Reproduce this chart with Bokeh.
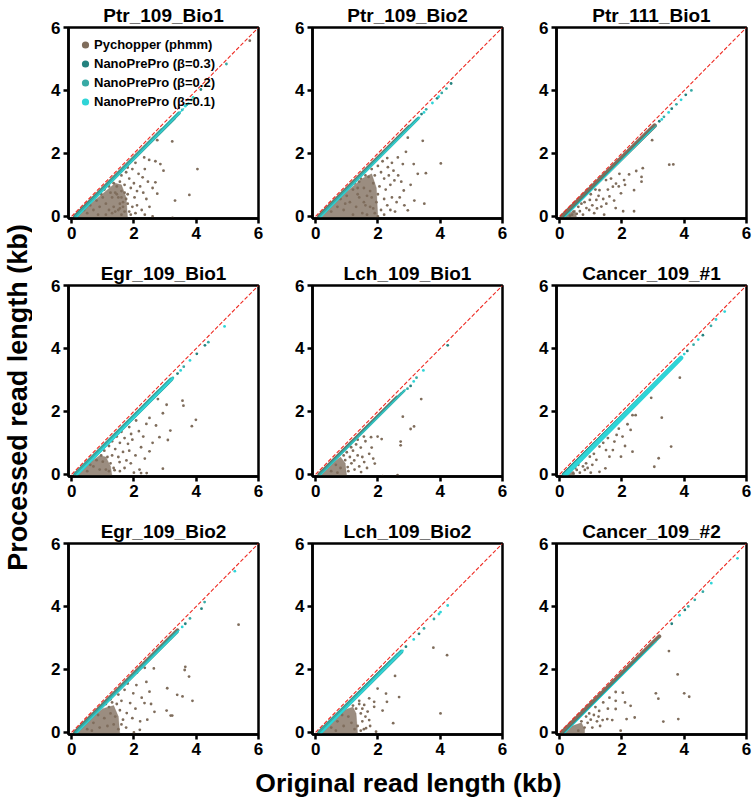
import math
from bokeh.plotting import figure
from bokeh.layouts import gridplot, row, column
from bokeh.models import Range1d, Label, Legend, LegendItem, FixedTicker
from bokeh.embed import file_html
from bokeh.resources import INLINE

# ---------------- data ----------------
panel_titles = ["Ptr_109_Bio1", "Ptr_109_Bio2", "Ptr_111_Bio1",
                "Egr_109_Bio1", "Lch_109_Bio1", "Cancer_109_#1",
                "Egr_109_Bio2", "Lch_109_Bio2", "Cancer_109_#2"]

series_names = ["Pychopper (phmm)", "NanoPrePro (\u03b2=0.3)",
                "NanoPrePro (\u03b2=0.2)", "NanoPrePro (\u03b2=0.1)"]

tick_values = [0, 2, 4, 6]
diag_x = [0, 6]
diag_y = [0, 6]

# Pychopper reads off the main band (original kb, processed kb)
pychopper_pts = [
    [(2.75, 2.42), (3.23, 2.38), (2.49, 1.79), (2.69, 1.75), (2.85, 1.66), (2.95, 1.45), (2.35, 1.50),
     (4.04, 1.50), (2.28, 1.24), (2.69, 1.08), (2.75, 0.72), (3.32, 0.50), (3.78, 0.68), (3.24, -0.05),
     (2.60, 0.00), (2.02, 0.60), (5.72, 5.58), (1.60, 1.30), (1.75, 1.40), (1.55, 1.10), (1.70, 1.00),
     (1.85, 1.20), (1.90, 0.90), (2.00, 1.05), (2.10, 0.80), (2.20, 0.95), (1.80, 0.70), (1.60, 0.80),
     (1.50, 0.60), (1.65, 0.45), (1.80, 0.40), (1.95, 0.30), (2.10, 0.35), (2.25, 0.20), (1.55, 0.25),
     (1.70, 0.15), (1.90, 0.05), (2.05, 0.10), (1.45, 0.95), (1.35, 1.05), (1.20, 0.95), (1.40, 0.75),
     (1.30, 0.60), (1.55, 0.40), (1.35, 0.30), (1.60, 0.05), (2.40, 0.55), (2.30, 0.75), (2.50, 0.30),
     (1.15, 1.00), (1.05, 0.85), (0.95, 0.70), (2.15, 1.35), (1.95, 1.50), (1.80, 1.55), (2.05, 1.70),
     (1.40, 0.15), (2.35, 0.05), (2.60, 0.90), (2.45, 1.10), (2.33, 1.87), (0.50, 0.10), (0.70, 0.20),
     (0.90, 0.30), (1.10, 0.40), (1.20, 0.20), (0.80, 0.50), (1.00, 0.60), (1.25, 0.75), (1.45, 0.70),
     (1.50, 0.20), (0.60, 0.35), (0.40, 0.20), (1.30, 0.10), (1.10, 0.05), (0.85, 0.05), (1.60, 0.60),
     (1.70, 0.75), (1.75, 0.55), (1.65, 0.30), (1.85, 0.15)],
    [(2.96, 2.50), (3.44, 2.40), (2.64, 1.87), (2.80, 1.66), (3.15, 1.66), (3.54, 1.37), (4.02, 1.68),
     (3.28, 1.35), (2.83, 0.82), (3.49, 0.40), (2.96, 0.19), (3.17, 0.50), (2.53, 1.14), (2.32, 1.56),
     (2.90, 2.05), (1.80, 1.50), (1.90, 1.30), (2.00, 1.60), (2.10, 1.40), (2.20, 1.20), (1.85, 1.05),
     (2.05, 0.95), (2.25, 0.85), (2.40, 1.00), (2.45, 0.60), (2.60, 0.45), (2.30, 0.35), (2.10, 0.20),
     (1.95, 0.45), (1.80, 0.60), (1.75, 0.80), (1.70, 1.25), (1.60, 1.30), (1.50, 1.35), (1.45, 1.20),
     (1.90, 0.10), (2.00, 0.70), (1.75, 0.30), (1.65, 0.05), (2.20, 0.55), (2.35, 1.30), (2.50, 1.45),
     (2.65, 1.30), (2.70, 0.60), (2.55, 0.15), (2.15, 1.75), (2.30, 1.85), (2.45, 1.70), (2.75, 1.10),
     (1.90, 1.75), (2.00, 0.00), (2.20, 0.05), (2.85, 0.35), (3.05, 1.00), (2.40, 0.20), (1.55, 0.90),
     (1.65, 0.65), (1.55, 0.45), (1.85, 0.25), (1.40, 1.10), (1.25, 1.05), (1.35, 0.90), (0.50, 0.15),
     (0.70, 0.30), (0.90, 0.20), (1.10, 0.45), (1.30, 0.30), (0.80, 0.55), (1.00, 0.65), (1.20, 0.85),
     (1.40, 0.60), (1.50, 0.10), (1.60, 0.35), (1.20, 0.05), (0.95, 0.40), (1.35, 0.70)],
    [(2.97, 2.42), (3.52, 1.64), (3.65, 1.65), (2.67, 1.53), (2.46, 1.44), (2.63, 1.25), (2.63, 1.10),
     (2.23, 1.33), (2.07, 1.15), (1.92, 1.35), (1.81, 1.04), (1.97, 0.73), (1.60, 0.63), (1.71, 0.94),
     (1.49, 1.15), (1.28, 0.83), (1.18, 0.52), (2.39, 0.83), (2.04, 0.16), (2.39, 0.16), (1.34, 0.31),
     (0.97, 0.52), (0.86, 0.26), (0.65, 0.16), (0.75, 0.05), (1.11, 0.10), (1.43, 0.05), (1.80, 0.26),
     (0.33, 0.02), (1.55, 0.85), (1.65, 1.20), (1.40, 0.55), (1.05, 0.35), (0.55, 0.08), (0.45, 0.15),
     (0.60, 0.30), (0.80, 0.45), (0.95, 0.20), (1.20, 0.25), (1.25, 0.65), (1.50, 0.40), (1.75, 0.50),
     (1.90, 0.95), (2.10, 1.00), (0.40, 0.05), (0.70, 0.40), (1.00, 0.70), (1.15, 0.85)],
    [(3.56, 2.34), (3.59, 2.18), (3.05, 2.21), (2.93, 1.94), (3.99, 1.73), (3.86, 1.53), (2.77, 2.39),
     (2.50, 1.79), (2.71, 1.55), (3.17, 1.39), (3.09, 1.09), (2.82, 1.18), (2.93, 0.18), (2.41, 0.04),
     (2.23, 0.04), (2.18, 0.15), (2.50, 0.73), (2.23, 0.86), (2.16, 1.37), (2.07, 1.71), (1.91, 1.28),
     (1.81, 0.97), (1.65, 0.71), (1.54, 0.39), (1.38, 0.13), (1.76, 0.44), (1.20, 0.90), (1.30, 1.05),
     (1.45, 1.20), (1.55, 1.00), (1.40, 0.80), (1.30, 0.60), (1.50, 0.55), (1.70, 1.15), (1.85, 1.50),
     (1.95, 1.10), (2.05, 0.60), (1.90, 0.35), (1.70, 0.20), (1.55, 0.10), (1.25, 0.35), (1.15, 0.55),
     (1.05, 0.75), (1.60, 1.35), (2.30, 1.20), (2.35, 0.50), (2.00, 0.05), (1.85, 0.75), (1.35, 0.20),
     (1.10, 0.15), (2.60, 1.00), (2.40, 1.60), (0.50, 0.10), (0.70, 0.25), (0.90, 0.15), (1.00, 0.40),
     (0.80, 0.45), (0.60, 0.30), (1.20, 0.10), (0.95, 0.60)],
    [(3.39, 2.39), (2.80, 1.83), (3.16, 1.52), (3.05, 1.44), (2.73, 1.04), (2.73, 0.92), (1.99, 1.20),
     (2.12, 1.12), (1.78, 1.18), (1.90, 0.34), (1.72, 0.65), (1.56, 0.39), (1.35, 0.60), (1.14, 0.86),
     (1.24, 0.44), (2.15, -0.06), (2.63, -0.03), (1.03, 0.23), (1.46, 0.07), (1.00, 0.70), (1.10, 0.55),
     (1.20, 0.75), (1.30, 0.95), (1.45, 0.85), (1.50, 0.55), (1.60, 1.05), (1.40, 0.25), (1.15, 0.35),
     (0.95, 0.45), (1.25, 0.15), (1.65, 0.20), (1.80, 0.85), (1.85, 0.50), (1.55, 1.20), (1.05, 0.10),
     (0.90, 0.60), (1.35, 1.10), (0.50, 0.10), (0.65, 0.30), (0.80, 0.20), (0.70, 0.05)],
    [(3.86, 3.07), (2.94, 2.43), (3.28, 1.80), (3.58, 0.88), (3.18, 0.51), (3.04, 0.24), (2.44, 1.88),
     (2.34, 1.88), (2.28, 1.41), (2.34, 0.72), (1.83, 1.25), (1.76, 1.04), (2.02, 1.20), (1.71, 0.77),
     (1.60, 0.56), (1.28, 0.88), (1.18, 0.46), (0.97, 0.56), (0.71, 0.46), (0.81, 0.14), (0.55, 0.14),
     (0.44, 0.03), (1.28, 0.08), (1.47, 0.19), (1.97, 0.56), (2.18, 1.59), (1.49, 0.77), (0.60, 0.30),
     (0.85, 0.35), (0.65, 0.05), (0.90, 0.20), (1.05, 0.30), (0.50, 0.20), (1.10, 0.65), (1.40, 1.00),
     (1.55, 1.15), (0.75, 0.25), (1.00, 0.05), (2.10, 0.90), (1.90, 1.45)],
    [(5.36, 3.42), (3.65, 2.08), (3.63, 1.98), (3.77, 1.77), (3.07, 1.40), (3.39, 1.19), (3.56, 1.14),
     (3.88, 1.00), (3.05, 0.69), (3.18, 0.53), (3.23, 0.53), (2.64, 2.03), (2.50, 1.29), (2.66, 0.65),
     (2.43, 0.40), (2.34, 0.93), (2.08, 1.50), (1.98, 1.24), (1.88, 0.93), (1.77, 0.61), (2.19, 0.08),
     (1.50, 1.20), (1.60, 1.00), (1.70, 1.35), (1.80, 1.55), (1.45, 0.90), (1.55, 0.70), (1.65, 0.40),
     (1.40, 0.50), (1.35, 0.25), (1.50, 0.10), (1.30, 0.95), (1.20, 0.80), (1.25, 1.05), (1.75, 0.15),
     (1.95, 0.45), (2.05, 0.75), (2.25, 1.10), (2.20, 0.35), (1.90, 1.75), (2.40, 1.60), (2.55, 0.90),
     (1.60, 0.25), (2.00, 0.00), (1.10, 0.90), (2.35, 2.05), (2.10, 1.90), (0.50, 0.10), (0.70, 0.30),
     (0.90, 0.15), (1.05, 0.45), (0.85, 0.55), (1.15, 0.20), (1.25, 0.60), (0.65, 0.05)],
    [(3.78, 2.69), (4.22, 2.45), (4.01, 0.60), (2.55, 1.79), (2.68, 1.12), (2.26, 1.23), (2.29, 0.97),
     (2.49, 0.29), (1.94, 0.02), (2.15, 0.69), (1.99, 1.39), (1.88, 0.97), (1.88, 0.81), (1.72, 1.08),
     (1.67, 0.66), (1.72, 0.39), (1.62, 0.13), (1.56, 0.87), (1.40, 0.90), (1.45, 0.60), (1.50, 0.35),
     (1.35, 0.20), (1.55, 0.10), (1.30, 0.75), (1.40, 1.00), (1.60, 0.50), (1.50, 0.75), (1.45, 0.05),
     (1.75, 0.20), (1.20, 0.85), (0.50, 0.15), (0.70, 0.35), (0.90, 0.20), (1.05, 0.50), (0.85, 0.55),
     (1.15, 0.30), (1.25, 0.10), (0.65, 0.05)],
    [(3.51, 2.58), (3.79, 1.84), (3.09, 1.24), (3.17, 1.07), (4.00, 1.24), (4.16, 1.13), (3.33, 0.34),
     (3.81, 0.42), (2.41, 0.47), (2.15, 0.42), (2.28, 0.84), (2.10, 0.95), (2.03, 1.26), (1.80, 1.28),
     (1.80, 1.00), (1.80, 0.74), (1.53, 0.42), (1.38, 0.39), (1.69, 0.39), (1.96, 0.05), (1.27, 0.68),
     (1.10, 0.55), (1.00, 0.40), (0.90, 0.30), (1.20, 0.35), (0.80, 0.15), (1.05, 0.15), (0.70, 0.35),
     (0.95, 0.60), (1.15, 0.80), (1.40, 0.95), (1.30, 0.20), (0.60, 0.05), (1.55, 0.75), (1.60, 1.10),
     (1.25, 0.50), (0.85, 0.50)],
]

# outline of the saturated Pychopper cloud near the origin
pychopper_core = [
    [(0.12, -0.08), (0.50, 0.30), (1.00, 0.72), (1.40, 1.05), (1.60, 1.00), (1.75, 0.60), (1.80, -0.08)],
    [(0.15, -0.08), (0.60, 0.42), (1.00, 0.78), (1.50, 1.20), (1.80, 1.35), (1.95, 0.90), (2.00, -0.08)],
    [(0.10, -0.08), (0.30, 0.10), (0.50, 0.20), (0.55, -0.08)],
    [(0.15, -0.08), (0.50, 0.30), (0.90, 0.60), (1.10, 0.55), (1.25, 0.25), (1.30, -0.08)],
    [(0.10, -0.08), (0.45, 0.28), (0.80, 0.55), (0.95, 0.35), (1.00, -0.08)],
    [(0.15, -0.08), (0.30, 0.08), (0.45, 0.10), (0.50, -0.08)],
    [(0.15, -0.08), (0.55, 0.38), (1.00, 0.75), (1.35, 0.85), (1.50, 0.50), (1.55, -0.08)],
    [(0.10, -0.08), (0.50, 0.35), (0.95, 0.72), (1.20, 0.80), (1.30, 0.60), (1.35, -0.08)],
    [(0.10, -0.08), (0.40, 0.20), (0.70, 0.30), (0.80, 0.10), (0.80, -0.08)],
]

# dense main band of each method: start and end (original kb, processed kb)
pychopper_band = [
    [(0.10, 0.00), (2.90, 2.75)], [(0.10, 0.00), (3.00, 2.85)], [(0.08, 0.00), (3.05, 2.88)],
    [(0.10, 0.00), (2.80, 2.65)], [(0.10, 0.00), (2.60, 2.45)], [(0.10, 0.00), (2.00, 1.85)],
    [(0.10, 0.00), (3.40, 3.25)], [(0.10, 0.00), (2.40, 2.25)], [(0.08, 0.00), (3.20, 3.05)],
]
beta03_band = [
    [(0.12, 0.00), (3.30, 3.12)], [(0.12, 0.00), (3.25, 3.08)], [(0.14, -0.02), (3.00, 2.80)],
    [(0.12, 0.00), (3.10, 2.92)], [(0.12, 0.00), (2.75, 2.58)], [(0.12, 0.00), (3.80, 3.62)],
    [(0.12, 0.00), (3.30, 3.12)], [(0.12, 0.00), (2.65, 2.47)], [(0.14, -0.02), (3.00, 2.80)],
]
beta02_band = [
    [(0.14, -0.01), (3.45, 3.28)], [(0.14, -0.01), (3.30, 3.12)], [(0.16, -0.02), (3.10, 2.88)],
    [(0.14, -0.01), (3.20, 3.02)], [(0.14, -0.01), (2.85, 2.66)], [(0.14, -0.02), (3.85, 3.66)],
    [(0.14, -0.01), (3.40, 3.20)], [(0.14, -0.01), (2.75, 2.56)], [(0.16, -0.02), (3.10, 2.88)],
]
beta01_band = [
    [(0.17, -0.02), (3.60, 3.42)], [(0.17, -0.02), (3.35, 3.15)], [(0.18, -0.02), (3.00, 2.79)],
    [(0.17, -0.02), (3.25, 3.05)], [(0.17, -0.02), (2.90, 2.70)], [(0.17, -0.04), (3.90, 3.70)],
    [(0.17, -0.02), (3.45, 3.24)], [(0.17, -0.03), (2.80, 2.60)], [(0.18, -0.02), (3.20, 2.98)],
]

# sparse long reads beyond the band
beta03_tail = [
    [(3.70, 3.55), (4.15, 4.03)], [(3.40, 3.25), (3.90, 3.75), (4.35, 4.22)],
    [(3.20, 3.02), (3.60, 3.42), (4.05, 3.86)], [(3.40, 3.20), (4.02, 3.83), (4.28, 4.10)],
    [(3.05, 2.81), (4.24, 4.10)], [(4.10, 3.92), (4.60, 4.42)],
    [(3.65, 3.45), (4.17, 3.93)], [(2.90, 2.72), (3.32, 3.13)], [(4.02, 3.89), (3.60, 3.45)],
]
beta02_tail = [
    [(3.85, 3.70), (4.97, 4.84), (3.55, 3.38)], [(3.55, 3.40), (4.05, 3.92), (4.20, 4.06)],
    [(3.35, 3.16), (3.75, 3.56), (4.23, 4.00)], [(3.60, 3.42), (4.39, 4.20), (3.25, 3.06)],
    [(3.24, 3.07), (2.95, 2.72)], [(4.30, 4.12), (4.86, 4.72)],
    [(3.80, 3.62), (4.27, 4.14)], [(3.48, 3.30), (3.80, 3.60)], [(4.13, 4.00), (4.34, 4.21), (4.60, 4.47)],
]
beta01_tail = [
    [(3.65, 3.50), (3.90, 3.78), (3.75, 3.58)], [(3.48, 3.30), (3.75, 3.60), (3.95, 3.80)],
    [(3.50, 3.30), (3.90, 3.70), (3.28, 3.08)], [(3.50, 3.30), (3.80, 3.62), (4.91, 4.70)],
    [(3.46, 3.30), (3.15, 2.95)], [(4.00, 3.82), (4.45, 4.28), (5.02, 4.92), (5.30, 5.17)],
    [(3.55, 3.35), (5.24, 5.12)], [(3.96, 3.76), (4.01, 3.82), (4.24, 4.03), (3.15, 2.95)],
    [(4.87, 4.74), (5.71, 5.53), (3.85, 3.72)],
]

# ---------------- styling ----------------
FONT = "Liberation Sans"
COLORS = ["#7f6d5c", "#24827e", "#38aaa5", "#2fd4d7"]
# band stroke widths per panel: Pychopper, beta 0.3, beta 0.2, beta 0.1
BAND_WIDTHS = [
    [3.5, 3.0, 3.5, 1.2], [3.5, 2.5, 3.0, 1.2], [4.5, 1.5, 1.5, 1.0],
    [3.0, 3.5, 4.0, 2.0], [3.0, 2.0, 2.5, 1.0], [2.0, 3.0, 3.5, 4.5],
    [3.5, 2.5, 3.0, 1.2], [3.0, 3.5, 4.0, 2.0], [4.0, 1.2, 1.2, 1.0],
]
DOT = 2.8


def xs(pts):
    return [p[0] for p in pts]


def ys(pts):
    return [p[1] for p in pts]


def make_panel(i, width, height, left, right, top, bottom):
    p = figure(width=width, height=height,
               x_range=Range1d(-0.1, 6), y_range=Range1d(-0.07, 6),
               output_backend="svg", toolbar_location=None,
               min_border_left=left, min_border_right=right,
               min_border_top=top, min_border_bottom=bottom)
    p.xgrid.visible = False
    p.ygrid.visible = False
    p.outline_line_color = "black"
    p.outline_line_width = 2.5
    p.outline_line_alpha = 1.0
    p.background_fill_color = "white"
    p.border_fill_color = "white"
    for ax in (p.xaxis[0], p.yaxis[0]):
        ax.ticker = FixedTicker(ticks=tick_values)
        ax.axis_line_width = 2.5
        ax.major_tick_line_width = 2.5
        ax.major_tick_out = 5
        ax.major_tick_in = 0
        ax.minor_tick_line_color = None
        ax.major_label_text_font = FONT
        ax.major_label_text_font_size = "17px"
        ax.major_label_text_font_style = "bold"
        ax.major_label_text_color = "black"
        ax.major_label_standoff = 3

    p.title.text = panel_titles[i]
    p.title.align = "center"
    p.title.text_font = FONT
    p.title.text_font_size = "19px"
    p.title.text_font_style = "bold"
    p.title.text_color = "black"
    p.title.standoff = 4
    p.title.offset = 0

    brown, t3, t2, cy = COLORS
    w = BAND_WIDTHS[i]

    core = pychopper_core[i]
    p.patch(xs(core), ys(core), fill_color=brown, fill_alpha=0.78, line_color=brown, line_alpha=0.3)
    pts = pychopper_pts[i]
    r_brown = p.scatter(xs(pts), ys(pts), size=DOT, color=brown, line_width=0)

    p.line(xs(pychopper_band[i]), ys(pychopper_band[i]), line_color=brown, line_width=w[0], line_cap="round")
    tail_renderers = []
    for band, tail, col, lw in ((beta03_band, beta03_tail, t3, w[1]),
                                (beta02_band, beta02_tail, t2, w[2]),
                                (beta01_band, beta01_tail, cy, w[3])):
        p.line(xs(band[i]), ys(band[i]), line_color=col, line_width=lw, line_cap="round")
        tail_renderers.append(p.scatter(xs(tail[i]), ys(tail[i]), size=DOT, color=col, line_width=0))

    p.line(diag_x, diag_y, line_color="#ee2a22", line_width=1.1, line_dash="4 2")

    if i == 0:
        items = [LegendItem(label=name, renderers=[r])
                 for name, r in zip(series_names, [r_brown] + tail_renderers)]
        leg = Legend(items=items, location="top_left",
                     label_text_font=FONT, label_text_font_size="13px",
                     label_text_font_style="bold", label_text_color="black",
                     background_fill_alpha=0, border_line_alpha=0,
                     margin=4, padding=4, spacing=0,
                     label_height=19, glyph_height=19, glyph_width=18, label_standoff=0)
        p.add_layout(leg)
    return p


panels = []
for i in range(9):
    r, c = divmod(i, 3)
    left = 36 if c == 0 else 40
    right = 8 if c == 2 else 14
    width = left + 190 + right
    bottom = 30 if r == 2 else 40
    height = 27 + 191 + bottom
    panels.append(make_panel(i, width, height, left, right, 27, bottom))

grid = gridplot([panels[0:3], panels[3:6], panels[6:9]], toolbar_location=None)

ylab = figure(width=32, height=800, x_range=Range1d(0, 32), y_range=Range1d(0, 800),
              output_backend="svg", toolbar_location=None, min_border=0,
              x_axis_location=None, y_axis_location=None)
ylab.grid.visible = False
ylab.outline_line_color = None
ylab.add_layout(Label(x=17, y=403, angle=math.pi / 2, text="Processed read length (kb)",
                      text_align="center", text_baseline="middle",
                      text_font=FONT, text_font_size="27px", text_font_style="bold",
                      text_color="black"))

xlab = figure(width=722, height=36, x_range=Range1d(0, 722), y_range=Range1d(0, 36),
              output_backend="svg", toolbar_location=None, min_border=0,
              x_axis_location=None, y_axis_location=None)
xlab.grid.visible = False
xlab.outline_line_color = None
xlab.add_layout(Label(x=376, y=17.5, text="Original read length (kb)",
                      text_align="center", text_baseline="middle",
                      text_font=FONT, text_font_size="26.5px", text_font_style="bold",
                      text_color="black"))

layout = row(ylab, column(grid, xlab))

with open("out.html", "w") as f:
    f.write(file_html(layout, INLINE))
